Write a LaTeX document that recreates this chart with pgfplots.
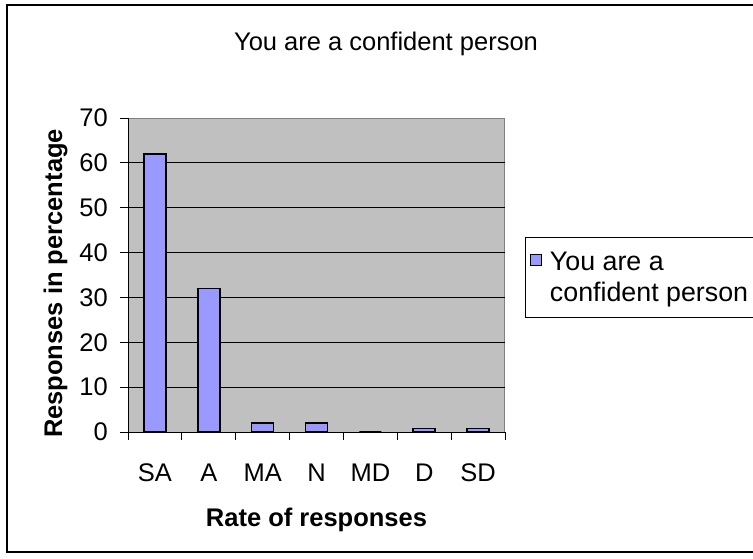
\documentclass[border=0pt]{standalone}
\usepackage{pgfplots}
\pgfplotsset{compat=1.18}
\usepackage{fontspec}
\setmainfont{Liberation Sans}
\definecolor{plotbg}{HTML}{C0C0C0}
\definecolor{barfill}{HTML}{9999FF}
\definecolor{plotborder}{HTML}{808080}
\begin{document}
\begin{tikzpicture}[x=1pt,y=1pt]
\useasboundingbox (0,0) rectangle (753,558);
\draw[line width=1.5pt] (7,6) rectangle (770,553);
\node[anchor=base, inner sep=0pt, font=\fontsize{25.5}{30}\selectfont] at (386,507) {You are a confident person};
\begin{axis}[
  at={(128pt,126pt)}, anchor=south west,
  scale only axis, width=377pt, height=314pt,
  xmin=-0.5, xmax=6.5, ymin=0, ymax=70,
  axis lines*=left,
  axis line style={black, line width=1pt},
  axis background/.style={fill=plotbg, draw=plotborder, line width=1pt},
  ytick={10,20,...,60},
  extra y ticks={0,70},
  extra y tick style={grid=none},
  ymajorgrids,
  major grid style={black, line width=0.8pt},
  xtick={0,...,6},
  xticklabels={SA,A,MA,N,MD,D,SD},
  minor xtick={-0.5,0.5,...,6.5},
  major x tick style={draw=none},
  tick align=outside,
  major tick length=8pt, minor tick length=8pt,
  tick style={black, line width=0.8pt},
  /pgf/number format/assume math mode=true,
  every tick label/.append style={font=\fontsize{25.5}{30}\selectfont, inner sep=0pt},
  yticklabel style={anchor=east, xshift=-12pt},
  xticklabel style={anchor=base, yshift=-41pt},
  xlabel={Rate of responses},
  ylabel={Responses in percentage},
  every axis x label/.style={at={(axis description cs:0.5,-0.3025)}, anchor=base, inner sep=0pt,
    font=\bfseries\fontsize{25.5}{30}\selectfont},
  every axis y label/.style={at={(axis description cs:-0.175,0.473)}, anchor=base, rotate=90, inner sep=0pt,
    font=\bfseries\fontsize{25.5}{30}\selectfont},
  legend style={at={(axis description cs:1.053,0.621)}, anchor=north west, draw=black, line width=1pt, fill=white,
    font=\fontsize{26.8}{31}\selectfont, cells={align=left, anchor=west, inner sep=0pt}, inner xsep=5pt, inner ysep=0pt},
]
\addplot[ybar, bar width=22pt, fill=barfill, draw=black, line width=1.5pt,
  legend image code/.code={
    \path[draw=none, fill=none] (0pt,-40pt) rectangle (17pt,40pt);
    \filldraw[fill=barfill, draw=black, line width=1pt] (0pt,12.5pt) rectangle (11pt,23.5pt);}]
  coordinates {(0,62) (1,32) (2,2) (3,2) (4,0) (5,0.8) (6,0.8)};
\addlegendentry{You are a\\confident person}
\end{axis}
\end{tikzpicture}
\end{document}
